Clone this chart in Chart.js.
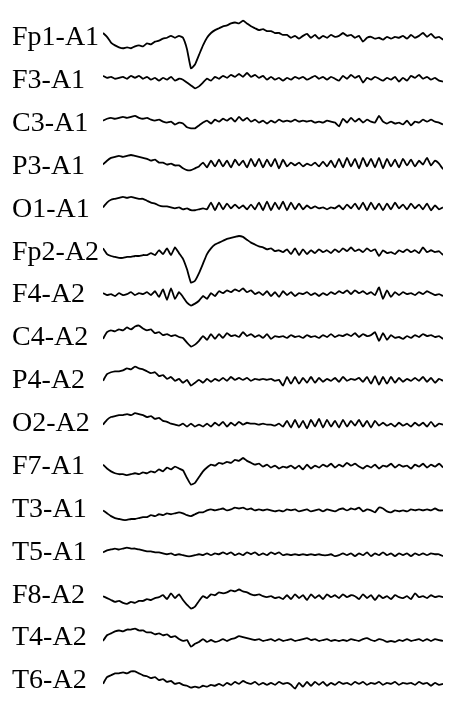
<!DOCTYPE html>
<html>
<head>
<meta charset="utf-8">
<script src="https://cdn.jsdelivr.net/npm/chart.js@4/dist/chart.umd.min.js"></script>
<style>
html,body{margin:0;padding:0;background:#fff;}
#wrap{width:450px;height:714px;}
</style>
</head>
<body>
<div id="wrap"><canvas id="c" width="450" height="714"></canvas></div>
<script>
// Channel names (montage)
const channelNames = ["Fp1-A1","F3-A1","C3-A1","P3-A1","O1-A1","Fp2-A2","F4-A2","C4-A2","P4-A2","O2-A2","F7-A1","T3-A1","T5-A1","F8-A2","T4-A2","T6-A2"];

// Sample index (86 samples per trace)
const sampleCount = 86;

// Signal values per channel (arbitrary amplitude units, positive = up)
const fp1A1 = [5,1,-5,-8,-10,-11,-10,-11,-9,-8,-9,-6,-7,-4,-3,-1,0,2,0,2,0,-12,-32,-28,-18,-8,0,5,8,10,12,13,15,16,15,18,15,12,10,8,9,7,7,5,5,3,3,0,2,-1,2,4,0,3,-1,2,0,3,1,2,5,2,3,0,2,-4,0,1,-1,0,-2,1,-1,1,0,2,-1,3,0,2,5,1,4,0,1,-2];
const f3A1 = [5,3,4,2,3,4,2,5,3,5,2,4,1,3,0,3,1,4,0,2,1,-2,-5,-8,-6,-2,2,0,4,2,5,3,6,4,7,4,8,4,6,3,5,1,4,1,3,0,3,1,4,2,4,1,3,5,2,4,1,4,2,0,5,2,6,3,5,-2,3,1,4,2,0,3,1,4,-1,3,0,5,3,6,2,4,1,3,0,-1];
const c3A1 = [3,5,6,5,6,7,6,7,8,6,5,6,4,3,4,2,1,2,-1,1,0,-4,-5,-5,-2,1,3,0,4,2,5,3,6,2,7,3,6,2,4,1,3,0,3,1,4,2,3,2,4,2,3,2,3,1,2,1,3,2,1,-3,5,1,6,2,5,1,4,2,1,8,2,0,2,0,1,-1,3,-2,2,1,4,2,4,2,1,-1];
const p3A1 = [2,6,9,10,11,10,11,12,11,10,9,8,6,7,4,4,2,3,1,1,-2,-4,-4,-2,0,4,-1,6,0,7,0,6,-1,7,1,6,-1,8,0,8,-1,7,0,8,-2,7,0,4,1,4,0,3,1,4,0,5,0,6,-1,8,-1,9,0,8,-2,9,0,8,-1,9,-2,8,0,7,-1,8,1,7,0,6,2,9,1,6,3,-3];
const o1A1 = [2,7,10,11,12,13,12,13,12,11,11,9,7,6,4,3,3,2,1,2,0,1,-1,-1,0,1,0,7,-1,7,0,6,1,5,1,4,0,5,0,7,-1,8,-1,7,0,8,-1,7,0,6,0,4,1,3,1,2,0,2,1,4,0,5,1,6,0,7,-1,7,0,6,-1,6,0,7,1,5,0,6,1,5,0,6,-1,4,0,2];
const fp2A2 = [4,-2,-4,-5,-6,-6,-5,-5,-4,-4,-3,-3,-1,-3,2,-2,4,-3,5,-1,-7,-18,-32,-30,-22,-12,-2,4,8,10,12,14,15,16,17,16,13,10,8,6,5,3,4,1,2,0,3,-2,4,-3,3,-2,2,-1,3,0,2,-1,3,0,4,1,5,1,3,0,4,1,3,-4,2,-1,0,-2,2,0,3,0,2,-1,5,0,2,0,1,-3];
const f4A2 = [2,0,1,-1,2,0,1,3,0,2,1,3,0,4,-2,6,-5,7,-4,3,-2,-8,-11,-9,-6,-1,-4,2,-1,4,2,5,3,6,4,7,3,5,1,3,0,4,-1,3,-2,4,0,3,-1,2,1,3,0,2,-1,2,0,3,1,4,2,5,1,5,2,4,1,3,0,8,-4,5,-2,3,0,3,1,2,0,3,1,4,2,0,1,-1];
const c4A2 = [-1,6,8,7,9,8,11,9,12,13,10,8,9,5,6,3,4,2,3,1,0,-5,-9,-7,-3,2,-2,4,-1,4,0,5,2,3,1,6,2,4,1,3,0,4,-1,2,1,2,0,3,1,2,0,3,1,2,0,3,1,4,1,3,2,4,2,5,1,4,2,3,6,-3,5,-2,3,0,1,-1,2,0,3,1,4,2,3,1,2,-1];
const p4A2 = [0,7,9,10,10,11,13,12,15,13,12,10,8,9,5,6,2,4,0,2,-2,1,-5,-2,1,-2,2,-1,2,0,3,0,4,1,3,1,3,0,2,1,2,1,2,0,1,-5,4,-3,4,-3,3,-2,4,-2,3,-1,2,0,3,-1,4,0,2,1,3,-1,4,-3,5,-4,4,-3,4,-2,3,-1,2,0,3,0,4,-1,3,-2,2,0];
const o2A2 = [-1,4,7,8,9,9,10,9,11,10,9,7,8,5,6,3,2,0,-1,-2,0,-3,0,-3,-1,-3,0,-3,1,-2,2,-3,1,-2,2,-1,1,0,0,-1,0,-1,-1,-2,0,-3,3,-4,4,-4,3,-5,4,-3,5,-4,4,-3,3,-4,4,-3,3,-2,4,-3,3,-4,3,-2,1,-2,0,-3,1,-2,0,-3,1,-2,1,-3,2,-3,0,-1];
const f7A1 = [2,-2,-5,-7,-8,-8,-9,-8,-7,-8,-6,-7,-5,-6,-3,-5,-1,-3,0,-2,-4,-12,-19,-17,-11,-5,-1,2,1,4,3,5,4,7,6,9,6,4,2,3,0,2,-1,1,-2,0,-1,1,-2,1,-3,2,-2,1,-1,2,0,3,-1,2,0,4,1,3,0,-2,1,-1,2,-2,1,0,3,-1,2,0,1,-2,2,0,3,-1,2,0,3,-1];
const t3A1 = [-1,-4,-7,-9,-10,-11,-11,-10,-10,-9,-8,-8,-6,-7,-5,-6,-4,-5,-4,-3,-4,-6,-7,-5,-3,-3,-1,0,-1,0,1,-1,0,2,1,2,0,1,-1,0,-1,0,-1,-2,-1,-2,0,-1,0,-2,-1,0,-2,-1,0,-2,0,-1,-2,0,1,-1,1,0,2,-2,0,-1,-3,2,1,-2,-3,-1,-2,-1,-2,0,-1,0,-1,0,-1,1,-1,-1];
const t5A1 = [0,2,3,4,3,4,5,4,4,3,2,1,1,0,0,-1,-2,-1,-3,-2,-3,-4,-4,-3,-2,-3,-1,-3,-1,-2,0,-2,0,-3,-1,-3,0,-2,0,-3,-1,-3,0,-2,0,-3,-2,-3,-2,-3,-2,-3,-2,-3,-2,-3,-3,-2,-4,-3,-1,-3,-1,-4,-1,-3,0,-4,-1,-3,0,-3,-1,-4,-1,-3,-1,-4,-1,-3,-1,-3,-1,-2,-2,-4];
const f8A2 = [-1,-3,-5,-7,-6,-8,-9,-7,-8,-6,-6,-4,-5,-3,-2,0,-4,2,-3,1,-5,-10,-14,-12,-6,-1,-3,1,0,3,2,3,5,4,6,4,3,1,0,1,-1,-2,-1,-3,-2,-4,0,-4,1,-3,0,-5,1,-3,0,-4,1,-2,0,-3,1,-2,0,-1,-4,1,-3,0,-5,0,-3,-1,-4,0,-2,-3,-1,-4,2,-2,-1,-3,0,-2,-1,-2];
const t4A2 = [-3,3,5,7,8,7,9,9,10,8,8,6,6,4,5,3,4,1,2,-1,-3,-2,-9,-6,-4,-1,-4,-2,-4,-3,-1,-3,-1,0,2,1,0,-1,-2,-1,-3,-2,-1,-3,-1,-3,-2,-1,-3,-2,-1,0,-2,-1,-3,-2,-1,-3,-2,-3,-2,-3,-1,-2,-3,-1,0,-2,-3,-1,-2,-4,-3,-4,-2,-3,-1,-3,-2,-1,-3,-1,-3,-1,-2,-3];
const t6A2 = [-3,4,6,8,8,9,8,10,10,8,6,5,3,4,1,2,-1,0,-3,-2,-4,-5,-7,-6,-7,-5,-6,-4,-5,-3,-5,-2,-4,-1,-3,0,-2,-3,-1,-4,-2,-4,-2,-4,-1,-3,-2,-4,-8,-2,-6,-1,-5,-1,-4,-1,-5,-2,-4,-1,-3,-2,-4,-1,-3,-1,-4,-2,-3,-1,-4,-2,-3,-1,-4,-2,-3,-2,-4,-1,-3,-2,-5,-2,-4,-3];

const channelValues = [fp1A1,f3A1,c3A1,p3A1,o1A1,fp2A2,f4A2,c4A2,p4A2,o2A2,f7A1,t3A1,t5A1,f8A2,t4A2,t6A2];

// Layout: each channel gets a vertical offset (in the same units as the signal)
const firstOffset = 22, channelGap = 45, totalSpan = 714;
const offsets = channelNames.map((_, i) => firstOffset + i * channelGap);

const datasets = channelValues.map((vals, i) => ({
  label: channelNames[i],
  data: vals.map((v, k) => ({ x: k, y: v - offsets[i] })),
  borderColor: '#000',
  borderWidth: 1.8,
  pointRadius: 0,
  tension: 0.15,
  fill: false
}));

const labelByValue = {};
offsets.forEach((o, i) => { labelByValue[-o] = channelNames[i]; });

new Chart(document.getElementById('c'), {
  type: 'line',
  data: { datasets },
  options: {
    responsive: false,
    animation: false,
    events: [],
    layout: { padding: { left: 12, right: 7, top: 0, bottom: 0 } },
    plugins: { legend: { display: false }, tooltip: { enabled: false } },
    scales: {
      x: { type: 'linear', min: 0, max: sampleCount - 1, display: false },
      y: {
        type: 'linear', min: -totalSpan, max: 0,
        grid: { display: false }, border: { display: false },
        afterBuildTicks: ax => { ax.ticks = offsets.map(o => ({ value: -o })); },
        afterFit: ax => { ax.width = 91; },
        ticks: {
          autoSkip: false,
          crossAlign: 'far',
          padding: 0,
          color: '#000',
          font: { family: '"Liberation Serif", "Times New Roman", serif', size: 28 },
          callback: v => labelByValue[v] || ''
        }
      }
    }
  }
});
</script>
</body>
</html>
